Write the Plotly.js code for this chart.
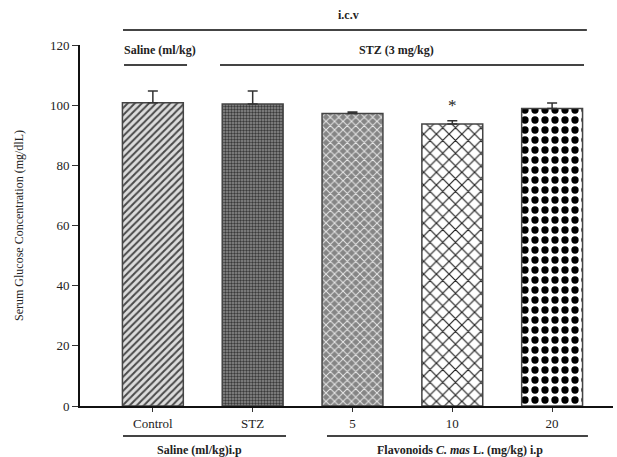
<!DOCTYPE html>
<html>
<head>
<meta charset="utf-8">
<script src="https://cdn.plot.ly/plotly-3.0.1.min.js"></script>
<style>html,body{margin:0;padding:0;background:#fff;}#chart{width:617px;height:457px;}</style>
</head>
<body>
<div id="chart"></div>
<script>
// Data
var categories = ["Control", "STZ", "5", "10", "20"];
var glucose = [100.8, 100.4, 97.2, 93.7, 98.9];
var sem = [3.9, 4.3, 0.5, 1.1, 1.8];
var yTicks = [0, 20, 40, 60, 80, 100, 120];
var sigLabel = ["", "", "", "*", ""];

var F = "Liberation Serif, Times New Roman, serif";

// per-bar fill styles
var styles = [
  {shape: "/", fg: "#4a4a4a", bg: "#dcdcdc", size: 5, sol: 0.4},
  {shape: ".", fg: "#3a3a3a", bg: "#8e8e8e", size: 3, sol: 0.5},
  {shape: "x", fg: "#e8e8e8", bg: "#858585", size: 6, sol: 0.3},
  {shape: "x", fg: "#222222", bg: "#ffffff", size: 9, sol: 0.25},
  {shape: ".", fg: "#000000", bg: "#ffffff", size: 10, sol: 0.42}
];

var traces = categories.map(function(c, i){
  var st = styles[i];
  return {
    type: "bar",
    x: [i],
    y: [glucose[i]],
    width: 0.61,
    error_y: {type: "data", array: [sem[i]], arrayminus: [0], symmetric: false, visible: true, color: "#333", thickness: 1.5, width: 5},
    marker: {
      color: st.bg,
      line: {color: "#444", width: 1.5},
      pattern: {shape: st.shape, fgcolor: st.fg, bgcolor: st.bg, size: st.size, solidity: st.sol, fgopacity: 1}
    },
    hoverinfo: "skip"
  };
});

var annotations = [];
sigLabel.forEach(function(s, i){
  if (s) annotations.push({x: i, y: glucose[i] + sem[i], yanchor: "bottom", yshift: 4, text: s, showarrow: false, font: {family: F, size: 17, color: "#222"}});
});
var ann = function(x, y, text){ return {xref: "paper", yref: "paper", x: x, y: y, text: text, showarrow: false, font: {family: F, size: 12, color: "#222"}, xanchor: "center", yanchor: "middle"}; };
annotations.push(ann(0.503, 1.083, "<b>i.c.v</b>"));
annotations.push(ann(0.150, 0.986, "<b>Saline (ml/kg)</b>"));
annotations.push(ann(0.593, 0.986, "<b>STZ (3 mg/kg)</b>"));
annotations.push(ann(0.225, -0.122, "<b>Saline (ml/kg)i.p</b>"));
annotations.push(ann(0.713, -0.122, "<b>Flavonoids <i>C. mas</i> L. (mg/kg) i.p</b>"));

var line = function(x0, x1, y){ return {type: "line", xref: "paper", yref: "paper", x0: x0, x1: x1, y0: y, y1: y, line: {color: "#444", width: 2}}; };
var shapes = [
  line(0.0807, 0.951, 1.0416),
  line(0.0826, 0.2008, 0.9446),
  line(0.2627, 0.9456, 0.9446),
  line(0.0807, 0.3865, -0.0831),
  line(0.4634, 0.953, -0.0831)
];

var layout = {
  width: 617, height: 457,
  margin: {l: 80, r: 4, t: 45, b: 51},
  paper_bgcolor: "#fff", plot_bgcolor: "#fff",
  showlegend: false,
  barmode: "overlay",
  font: {family: F, size: 12, color: "#222"},
  xaxis: {
    range: [-0.73, 4.61], tickvals: [0, 1, 2, 3, 4], ticktext: categories,
    showline: true, linecolor: "#111", linewidth: 2, ticks: "outside", ticklen: 4, tickcolor: "#333",
    showgrid: false, zeroline: false, tickfont: {family: F, size: 13, color: "#222"}
  },
  yaxis: {
    range: [0, 120], tickvals: yTicks, showline: true, linecolor: "#111", linewidth: 2,
    ticks: "outside", ticklen: 6, tickcolor: "#333", showgrid: false, zeroline: false,
    tickfont: {family: F, size: 13, color: "#222"},
    title: {text: "Serum Glucose Concentration (mg/dlL)", font: {family: F, size: 12, color: "#222"}, standoff: 24}
  },
  annotations: annotations,
  shapes: shapes
};

Plotly.newPlot("chart", traces, layout, {displayModeBar: false, staticPlot: true});
</script>
</body>
</html>
